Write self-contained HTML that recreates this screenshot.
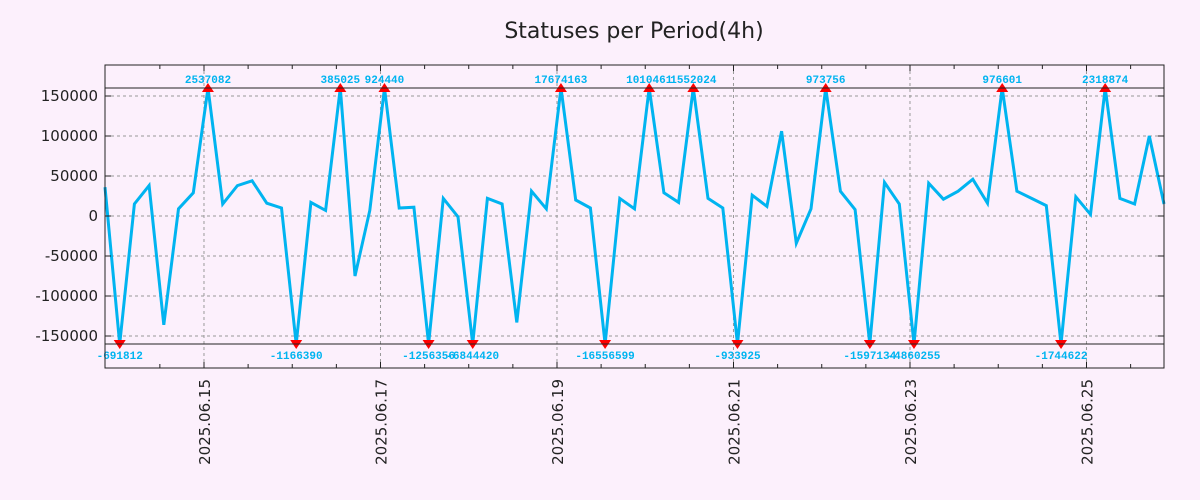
<!DOCTYPE html>
<html><head><meta charset="utf-8"><style>
body{margin:0;background:#fcf0fc;}
svg{display:block;font-family:"DejaVu Sans","Liberation Sans",sans-serif;}
</style></head><body>
<svg id="c" width="1200" height="500">
<rect width="1200" height="500" fill="#fcf0fc"/>
<text x="634" y="38" font-size="22" text-anchor="middle" fill="#222">Statuses per Period(4h)</text>
<g id="grid"></g><g id="series"></g><g id="marks"></g><g id="axes"></g>
</svg>
<script>
const values=[36000,-691812,15000,38000,-136000,9000,29000,2537082,15000,38000,44000,16000,10000,-1166390,17000,7000,385025,-75000,7000,924440,10000,11000,-1256356,22000,-1000,-6844420,22000,15000,-133000,31000,9000,17674163,20000,10000,-16556599,22000,9000,1010461,29000,17000,1552024,22000,10000,-933925,26000,12000,106000,-34000,9000,973756,31000,8000,-1597134,42000,15000,-4860255,41000,21000,31000,46000,16000,976601,31000,22000,13000,-1744622,24000,2000,2318874,22000,15000,100000,15000];
const yTicks=[150000,100000,50000,0,-50000,-100000,-150000];
const dateLabels=["2025.06.15","2025.06.17","2025.06.19","2025.06.21","2025.06.23","2025.06.25"];
const firstDateIndex=6.73;
const clipMax=160000;
const NS="http://www.w3.org/2000/svg";
const L=105,R=1164,T=65,B=368;
const n=values.length;
const xs=i=>L+(R-L)*i/(n-1);
const ys=v=>216-v*0.0008;
function mk(tag,attrs,parent){const e=document.createElementNS(NS,tag);for(const k in attrs)e.setAttribute(k,attrs[k]);parent.appendChild(e);return e;}
const grid=document.getElementById('grid'),axes=document.getElementById('axes'),ser=document.getElementById('series'),marks=document.getElementById('marks');
const pr=mk('rect',{x:L,y:T,width:R-L,height:B-T,fill:'#fcf0fc'},grid);


yTicks.forEach(v=>{const y=ys(v);
const gl=mk('line',{x1:L,x2:R,y1:y,y2:y,stroke:'#999','stroke-dasharray':'3,3'},grid);


mk('line',{x1:L,x2:L+6,y1:y,y2:y,stroke:'#222'},axes);
mk('line',{x1:R,x2:R-6,y1:y,y2:y,stroke:'#222'},axes);
const t=mk('text',{x:98,y:y+5,'font-size':15,'text-anchor':'end',fill:'#222'},axes);t.textContent=v;

});
for(let k=-1;k<30;k++){const idx=firstDateIndex+3*k;if(idx<0||idx>n-1)continue;const x=xs(idx);
const major=k%4===0;
if(major){const gl=mk('line',{x1:x,x2:x,y1:T,y2:B,stroke:'#999','stroke-dasharray':'3,3'},grid);

}
mk('line',{x1:x,x2:x,y1:B,y2:B-(major?6:4),stroke:'#222'},axes);
mk('line',{x1:x,x2:x,y1:T,y2:T+(major?6:4),stroke:'#222'},axes);
if(major&&dateLabels[k/4]){const t=mk('text',{x:0,y:0,'font-size':15,'text-anchor':'end',fill:'#222',transform:`translate(${x+6},${B+11}) rotate(-90)`},axes);t.textContent=dateLabels[k/4];

}}
const fr=mk('rect',{x:L,y:T,width:R-L,height:B-T,fill:'none',stroke:'#222','stroke-width':1},axes);


[clipMax,-clipMax].forEach(v=>{const l=mk('line',{x1:L,x2:R,y1:ys(v),y2:ys(v),stroke:'#222'},axes);

});
const cl=v=>Math.max(-clipMax,Math.min(clipMax,v));
const pts=values.map((v,i)=>xs(i).toFixed(1)+','+ys(cl(v)).toFixed(1)).join(' ');
const pl=mk('polyline',{points:pts,fill:'none',stroke:'#00b4f0','stroke-width':3,'stroke-linejoin':'miter'},ser);


values.forEach((v,i)=>{if(Math.abs(v)<=clipMax)return;const x=xs(i),up=v>0,y=ys(cl(v));
const tri=mk('polygon',{points:up?`${x-6},${y+4} ${x+6},${y+4} ${x},${y-5}`:`${x-6},${y-4} ${x+6},${y-4} ${x},${y+5}`,fill:'#f00'},marks);


const t=mk('text',{x:x,y:up?y-5:y+15,'font-size':11,'font-weight':'bold','font-family':'"Liberation Mono",monospace','text-anchor':'middle',fill:'#00b4f0'},marks);t.textContent=v;

});
</script>
</body></html>
